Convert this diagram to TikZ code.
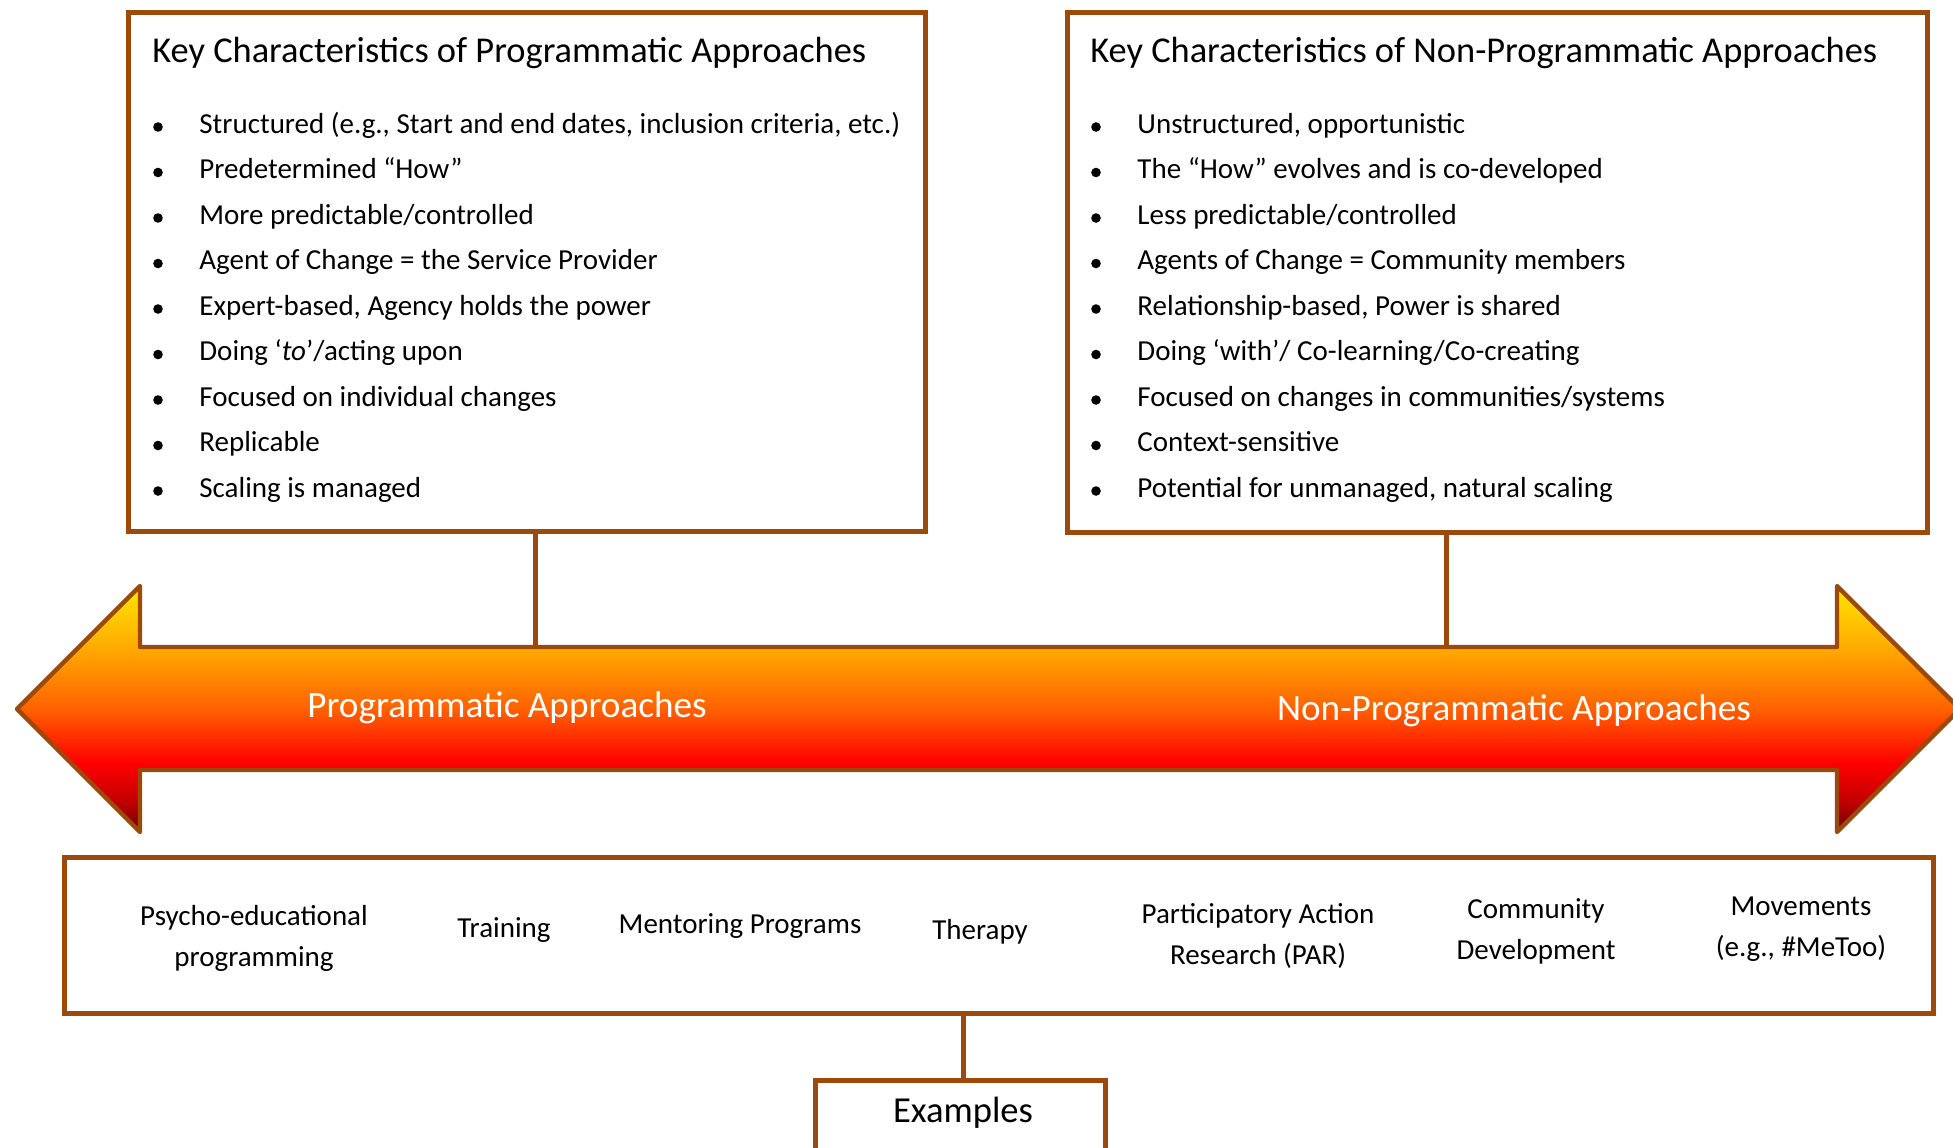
\documentclass[tikz,border=0pt]{standalone}
\usepackage{fontspec}
\setmainfont{Carlito}
\usepackage{xcolor}
\usetikzlibrary{positioning}
\definecolor{brun}{RGB}{156,74,12}
\newcommand*{\px}{0.5pt}
\newcommand*{\pasLigne}{45.5}
\pgfdeclareverticalshading{degrade}{100bp}{%
	rgb(0bp)=(0.42,0,0); rgb(25bp)=(0.42,0,0); rgb(31bp)=(0.75,0,0);
	rgb(39bp)=(1,0,0); rgb(50bp)=(1,0.38,0); rgb(62.5bp)=(1,0.67,0);
	rgb(75bp)=(1,0.9,0); rgb(100bp)=(1,0.9,0)}
\tikzset{
	boite/.style={draw=brun,line width=2.5pt,fill=white,inner sep=0pt},
	lien/.style={draw=brun,line width=2.5pt},
	fleche/.style={draw=brun,line width=2.2pt,line join=round,shading=degrade},
	titre/.style={anchor=base west,inner sep=0pt,font=\fontsize{18.2}{22}\selectfont},
	puce/.style={anchor=base west,inner sep=0pt,font=\fontsize{14.5}{17}\selectfont},
	etiquette/.style={text=white,inner sep=0pt,font=\fontsize{18.6}{22}\selectfont},
	exemple/.style={align=center,inner sep=0pt,font=\fontsize{14.5}{20.5}\selectfont}
}

\begin{document}
\begin{tikzpicture}[x=\px,y=-\px]
	\useasboundingbox (0,0) rectangle (1953,1147);
	\clip (0,0) rectangle (1953,1147);

	% les deux cadres du haut
	\node[boite,minimum width=797*\px,minimum height=519*\px] (gauche) at (526.5,271.5) {};
	\node[boite,minimum width=860*\px,minimum height=520*\px] (droite) at (1497,272) {};
	\node[titre] (tgauche) at (152,62.5) {Key Characteristics of Programmatic Approaches};
	\node[titre] (tdroite) at (1090,62.5) {Key Characteristics of Non-Programmatic Approaches};

	\foreach \t [count=\i from 0] in {
		{Structured (e.g., Start and end dates, inclusion criteria, etc.)},
		{Predetermined “How”},
		{More predictable/controlled},
		{Agent of Change = the Service Provider},
		{Expert-based, Agency holds the power},
		{Doing ‘\textit{to}’/acting upon},
		{Focused on individual changes},
		{Replicable},
		{Scaling is managed}}{
		\fill (158,133+\pasLigne*\i-6) circle (4.8);
		\node[puce] (pg\i) at (199,133+\pasLigne*\i) {\t};
	}
	\foreach \t [count=\i from 0] in {
		{Unstructured, opportunistic},
		{The “How” evolves and is co-developed},
		{Less predictable/controlled},
		{Agents of Change = Community members},
		{Relationship-based, Power is shared},
		{Doing ‘with’/ Co-learning/Co-creating},
		{Focused on changes in communities/systems},
		{Context-sensitive},
		{Potential for unmanaged, natural scaling}}{
		\fill (1096,133+\pasLigne*\i-6) circle (4.8);
		\node[puce] (npg\i) at (1137,133+\pasLigne*\i) {\t};
	}

	% la double fleche
	\path[fleche] (17,709) -- (140,586) -- (140,647) -- (1837,647) -- (1837,586)
		-- (1960,709) -- (1837,832) -- (1837,770) -- (140,770) -- (140,832) -- cycle;
	\coordinate (hautg) at (535,647);
	\coordinate (hautd) at (1446,647);
	\draw[lien] (hautg |- gauche.south) -- (hautg);
	\draw[lien] (hautd |- droite.south) -- (hautd);
	\node[etiquette] (lprog) at (507,708) {Programmatic Approaches};
	\node[etiquette] (lnonprog) at (1514,711) {Non-Programmatic Approaches};

	% exemples
	\node[boite,minimum width=1869*\px,minimum height=156*\px] (exemples) at (998.5,935) {};
	\node[exemple] (e1) at (254,938) {Psycho-educational\\programming};
	\node[exemple] (e2) at (504,929.5) {Training};
	\node[exemple] (e3) at (740,925.5) {Mentoring Programs};
	\node[exemple] (e4) at (980,931.5) {Therapy};
	\node[exemple] (e5) at (1258,935.5) {Participatory Action\\Research (PAR)};
	\node[exemple] (e6) at (1536,931) {Community\\Development};
	\node[exemple] (e7) at (1801,929.5) {Movements\\(e.g., \#MeToo)};

	\node[boite,minimum width=290*\px,minimum height=100*\px,anchor=north] (ex) at (960,1078) {};
	\node[font=\fontsize{18.3}{22}\selectfont,inner sep=0pt] (lex) at (963,1113) {Examples};
	\coordinate (basex) at (963,1078);
	\draw[lien] (basex |- exemples.south) -- (basex);
\end{tikzpicture}
\end{document}
